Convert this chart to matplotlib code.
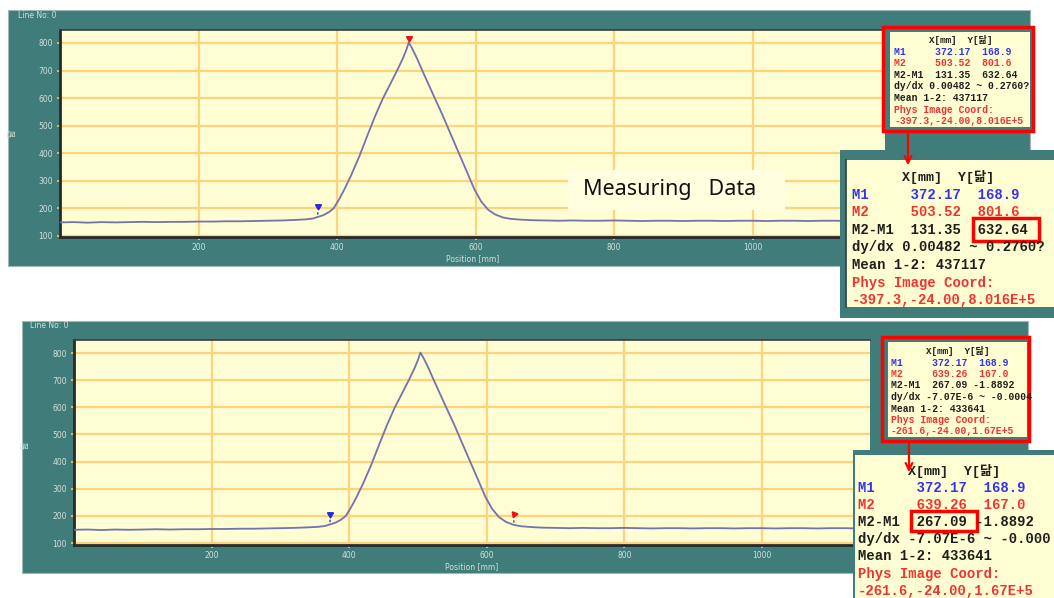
import matplotlib.pyplot as plt
from matplotlib.patches import Rectangle
from matplotlib.transforms import offset_copy

W, H = 1054, 598

# line profile: position [mm] -> value
position = [0, 20, 40, 60, 80, 100, 120, 140, 160, 180, 200, 220, 240, 260, 280, 300, 320, 340,
            355, 365, 372.17, 380, 388, 395, 403, 410, 420, 432,
            445, 455, 466, 477, 487, 495, 500, 503.52,
            508, 515, 523, 532, 541, 552, 563, 575, 587, 598, 608, 618, 628, 639.26,
            650, 665, 680, 700,
            720, 740, 760, 780, 800, 820, 840, 860, 880, 900, 920, 940, 960, 980, 1000,
            1020, 1040, 1060, 1080, 1100, 1120, 1140, 1160, 1180, 1200]
value = [149, 150, 148, 150, 149, 150, 151, 150, 151, 151, 152, 152, 153, 153, 154, 155, 156, 158,
         160, 163, 168.9, 175, 186, 200, 233, 266, 318, 388,
         472, 535, 598, 652, 702, 744, 775, 801.6,
         782, 746, 700, 650, 600, 540, 475, 405, 335, 270, 225, 195, 178, 167.0,
         162, 159, 157, 156,
         155, 156, 155, 155, 156, 155, 154, 155, 155, 154, 155, 155, 154, 155, 155,
         154, 155, 155, 154, 155, 155, 154, 155, 155, 155]

x_ticks = [200, 400, 600, 800, 1000]
y_ticks = [100, 200, 300, 400, 500, 600, 700, 800]

# cursor markers
m1 = (372.17, 168.9)
m2_top = (503.52, 801.6)
m2_bottom = (639.26, 167.0)

header = "X[mm]  Y[닮]"
rows_top = ["M1     372.17  168.9",
            "M2     503.52  801.6",
            "M2-M1  131.35  632.64",
            "dy/dx 0.00482 ~ 0.2760?",
            "Mean 1-2: 437117",
            "Phys Image Coord:",
            "-397.3,-24.00,8.016E+5"]
rows_bottom = ["M1     372.17  168.9",
               "M2     639.26  167.0",
               "M2-M1  267.09 -1.8892",
               "dy/dx -7.07E-6 ~ -0.000",
               "Mean 1-2: 433641",
               "Phys Image Coord:",
               "-261.6,-24.00,1.67E+5"]

BLUE, RED, DARK = '#3232F0', '#F03232', '#1E1E1E'
row_colors = [BLUE, RED, DARK, DARK, DARK, RED, RED]

teal = '#407C79'
plot_bg = '#FFFDD3'
box_bg = '#FFFED2'
grid_c = '#FFD27E'
curve_c = '#7373AD'
label_c = '#D4E0DD'
mono = ['Liberation Mono', 'Noto Sans CJK KR']


def frac(x0, y0, x1, y1):
    return [x0 / W, 1 - y1 / H, (x1 - x0) / W, (y1 - y0) / H]


fig = plt.figure(figsize=(W / 100, H / 100), dpi=100)
fig.patch.set_facecolor('white')

# background layer in pixel units
bg = fig.add_axes([0, 0, 1, 1], zorder=0)
bg.set_xlim(0, W)
bg.set_ylim(H, 0)
bg.axis('off')
bg.add_patch(Rectangle((8, 10), 1022, 256, fc=teal, ec='#9DBAB8', lw=0.8))
bg.add_patch(Rectangle((22, 321), 1006, 252, fc=teal, ec='#9DBAB8', lw=0.8))
for lx, ly, cx, cy in [(18, 15, 12, 133), (30, 326, 25, 445)]:
    bg.text(lx, ly, 'Line No: 0', fontsize=5.5, color=label_c, va='center')
    bg.text(cx, cy, '닮', fontsize=6, color=label_c, rotation=90,
            family='Noto Sans CJK KR', ha='center', va='center')


def draw_profile(rect, xlim, ylim, markers):
    ax = fig.add_axes(frac(*rect), zorder=1)
    ax.set_facecolor(plot_bg)
    ax.plot(position, value, color=curve_c, lw=1.3, zorder=3)
    ax.set_xlim(xlim)
    ax.set_ylim(ylim)
    ax.set_xticks(x_ticks)
    ax.set_yticks(y_ticks)
    ax.grid(True, color=grid_c, lw=1.6)
    ax.set_axisbelow(True)
    ax.spines['left'].set_color('#2A2A2A')
    ax.spines['left'].set_linewidth(2)
    ax.spines['bottom'].set_color('#2A2A2A')
    ax.spines['bottom'].set_linewidth(2)
    ax.spines['top'].set_color('#3C3C3C')
    ax.spines['top'].set_linewidth(1.2)
    ax.spines['right'].set_visible(False)
    ax.tick_params(labelsize=5.5, labelcolor=label_c, color='#F2B652',
                   length=2.5, width=1.4, pad=2.5)
    ax.tick_params(axis='x', pad=1.5)
    ax.set_xlabel('Position [mm]', fontsize=5.5, color=label_c, labelpad=2)
    for mx, my, col, stem, angle in markers:
        if stem:
            ax.annotate('', xy=(mx, my), xytext=(0, 5), textcoords='offset points',
                        arrowprops=dict(arrowstyle='-', color=col, lw=1))
        tr = offset_copy(ax.transData, fig=fig, y=stem + 3.5, units='points')
        ax.plot([mx], [my], marker=(3, 0, angle), ms=5, color=col,
                transform=tr, zorder=4, clip_on=False)
    return ax


draw_profile((60, 30, 885, 237), (0, 1191), (96, 847),
             [(m1[0], m1[1], '#2828E0', 4, 180), (m2_top[0], m2_top[1], '#F01010', 0, 180)])
draw_profile((74, 340, 870, 545), (0, 1157), (93, 848),
             [(m1[0], m1[1], '#2828E0', 4, 180), (m2_bottom[0], m2_bottom[1], '#F01010', 4, 160)])

# overlay layer: annotation and cursor readouts
ov = fig.add_axes([0, 0, 1, 1], zorder=5)
ov.set_xlim(0, W)
ov.set_ylim(H, 0)
ov.axis('off')

ov.add_patch(Rectangle((568, 170), 217, 40, fc='#FFFFE0', ec='none'))
ov.text(670, 190, 'Measuring   Data', fontsize=15.5, family='Noto Sans',
        ha='center', va='center', color='#111111')


def readout(x0, y0, step, size, rows, clip):
    cw = size * 100 / 72 * 0.6
    ov.text(x0 + 6 * cw, y0, header, fontsize=size * 0.95, family=mono, weight='bold',
            color=DARK, va='center', clip_path=clip)
    for i, (line, col) in enumerate(zip(rows, row_colors)):
        t = ov.text(x0, y0 + step * (i + 1), line, fontsize=size, family=mono,
                    weight='bold', color=col, va='center')
        t.set_clip_path(clip)


# top small readout
ov.add_patch(Rectangle((883, 27), 150, 104, fc=teal, ec='#FF0000', lw=2.5))
clip = Rectangle((890, 32), 140, 95, fc=box_bg, ec='none')
ov.add_patch(clip)
readout(894, 40, 11.6, 7, rows_top, clip)

# top enlarged readout
ov.add_patch(Rectangle((840, 150), 220, 168, fc=teal, ec='none'))
clip = Rectangle((846, 160), 214, 147, fc=box_bg, ec='none')
ov.add_patch(clip)
ov.plot([846, 846], [160, 307], color='#2E3E3C', lw=1.2)
readout(852, 177, 17.6, 10, rows_top, clip)
ov.add_patch(Rectangle((973, 218), 66, 23, fc='none', ec='#FF0000', lw=2.5))
ov.annotate('', xy=(908, 168), xytext=(908, 131),
            arrowprops=dict(arrowstyle='->', color='#FF0000', lw=1.6, mutation_scale=12))

# bottom small readout
ov.add_patch(Rectangle((882, 337), 147, 104, fc=teal, ec='#FF0000', lw=2.5))
clip = Rectangle((888, 342), 139, 95, fc=box_bg, ec='none')
ov.add_patch(clip)
readout(891, 351, 11.5, 7, rows_bottom[:3] + ["dy/dx -7.07E-6 ~ -0.0004"] + rows_bottom[4:], clip)

# bottom enlarged readout
ov.add_patch(Rectangle((853, 450), 205, 150, fc=teal, ec='none'))
clip = Rectangle((855, 455), 203, 145, fc=box_bg, ec='none')
ov.add_patch(clip)
readout(858, 471, 17.1, 10, rows_bottom, clip)
ov.add_patch(Rectangle((911, 511), 66, 20, fc='none', ec='#FF0000', lw=2.5))
ov.annotate('', xy=(909, 475), xytext=(909, 441),
            arrowprops=dict(arrowstyle='->', color='#FF0000', lw=1.6, mutation_scale=12))

fig.savefig('out.png', dpi=100)
